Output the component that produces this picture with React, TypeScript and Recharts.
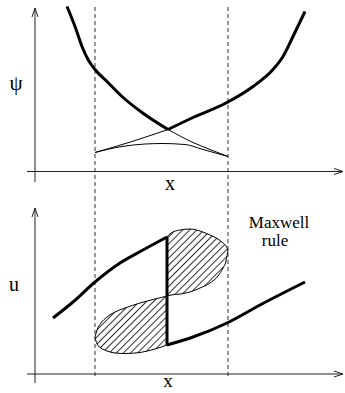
import React from "react";
import {
  Area,
  ComposedChart,
  Line,
  ReferenceDot,
  ReferenceLine,
  XAxis,
  YAxis,
} from "recharts";

// x in units of 10px from the y axis, y in units of 10px above the x axis

// upper panel: free energy psi(x)
const psiAX = [3.2, 4.0, 4.7, 5.3, 6.0, 7.3, 8.7, 10.7, 13.3];
const psiAY = [16.5, 14.5, 12.5, 11.2, 10.2, 8.9, 7.5, 5.9, 4.2];
const psiATailX = [13.3, 15.8, 17.5, 19.3];
const psiATailY = [4.2, 2.9, 2.2, 1.5];
const psiBX = [13.3, 15.8, 19.2, 21.8, 23.8, 24.8, 25.8, 27.0];
const psiBY = [4.2, 5.4, 6.9, 8.5, 10.2, 11.5, 13.5, 16.0];
const psiBTailX = [6.0, 9.7, 13.3];
const psiBTailY = [1.9, 3.0, 4.2];
const psiMixX = [6.0, 8.7, 11.0, 12.7, 15.0, 16.8, 19.3];
const psiMixY = [1.9, 2.5, 2.75, 2.8, 2.7, 2.2, 1.5];

// lower panel: u(x) with the Maxwell jump
const uAX = [1.8, 3.8, 6.0, 8.5, 10.8, 13.2];
const uAY = [5.6, 7.2, 9.2, 11.1, 12.4, 13.7];
const jumpX = [13.2, 13.2];
const jumpY = [13.7, 2.9];
const uBX = [13.2, 15.8, 19.2, 22.5, 27.0];
const uBY = [2.9, 3.7, 5.1, 6.9, 9.2];

const lobeUpX = [13.2, 13.6, 14.5, 15.5, 16.5, 17.5, 18.3, 18.8, 19.1, 19.3];
const lobeUpTop = [13.7, 14.1, 14.4, 14.5, 14.3, 13.9, 13.5, 13.1, 12.8, 12.4];
const lobeUpBot = [7.8, 7.9, 8.0, 8.2, 8.6, 9.1, 9.8, 10.6, 11.3, 12.4];
const lobeLoX = [6.0, 6.2, 6.6, 7.2, 8.0, 9.0, 10.5, 12.0, 13.2];
const lobeLoTop = [3.7, 4.4, 5.1, 5.7, 6.2, 6.6, 7.1, 7.5, 7.8];
const lobeLoBot = [3.7, 3.0, 2.6, 2.3, 2.1, 2.05, 2.15, 2.5, 2.9];

const spinodals = [6.0, 19.3];

const pts = (xs: number[], ys: number[]) => xs.map((x, i) => ({ x, y: ys[i] }));
const band = (xs: number[], lo: number[], hi: number[]) =>
  xs.map((x, i) => ({ x, range: [lo[i], hi[i]] }));

const FONT = "'Liberation Serif', 'DejaVu Serif', serif";
const INK = "#000";

function ArrowAxis(props: any) {
  const { x1, y1, x2, y2 } = props;
  const dx = x2 - x1;
  const dy = y2 - y1;
  const len = Math.hypot(dx, dy) || 1;
  const ux = dx / len;
  const uy = dy / len;
  const bx = x2 - ux * 9;
  const by = y2 - uy * 9;
  const h = 3;
  return (
    <g>
      <line x1={x1} y1={y1} x2={x2} y2={y2} stroke="#222" strokeWidth={1} />
      <polyline
        points={`${bx - uy * h},${by + ux * h} ${x2},${y2} ${bx + uy * h},${by - ux * h}`}
        fill="none"
        stroke="#222"
        strokeWidth={1}
      />
    </g>
  );
}

function TextAt(x: number, y: number, text: string, size: number) {
  return (
    <ReferenceDot
      key={text + x}
      x={x}
      y={y}
      r={0}
      fill="none"
      stroke="none"
      ifOverflow="visible"
      label={{ value: text, position: "center", fill: INK, fontSize: size, fontFamily: FONT }}
    />
  );
}

function curve(data: any[], key: string, width: number, type: any = "monotone") {
  return (
    <Line
      key={key}
      data={data}
      dataKey="y"
      type={type}
      stroke={INK}
      strokeWidth={width}
      dot={false}
      activeDot={false}
      isAnimationActive={false}
    />
  );
}

function lobe(data: any[], key: string) {
  return (
    <Area
      key={key}
      data={data}
      dataKey="range"
      type="monotone"
      stroke={INK}
      strokeWidth={1}
      fill="url(#maxwellHatch)"
      fillOpacity={1}
      dot={false}
      activeDot={false}
      isAnimationActive={false}
    />
  );
}

export default function App() {
  const xDomain = [-3.5, 31];
  return (
    <div
      style={{
        position: "absolute",
        left: 0,
        top: 0,
        width: 345,
        height: 393,
        background: "#fff",
        fontFamily: FONT,
        overflow: "hidden",
      }}
    >
      <ComposedChart width={345} height={197} margin={{ top: 0, right: 0, bottom: 0, left: 0 }}>
        <XAxis type="number" dataKey="x" domain={xDomain} allowDataOverflow hide />
        <YAxis type="number" domain={[-2.55, 17.15]} allowDataOverflow hide />
        {spinodals.map((s) => (
          <ReferenceLine
            key={s}
            segment={[{ x: s, y: 16.45 }, { x: s, y: -2.55 }]}
            stroke="#333"
            strokeDasharray="4 3"
            ifOverflow="visible"
          />
        ))}
        <ReferenceLine
          segment={[{ x: -0.8, y: 0 }, { x: 30.8, y: 0 }]}
          ifOverflow="visible"
          shape={ArrowAxis}
        />
        <ReferenceLine
          segment={[{ x: 0, y: -1.05 }, { x: 0, y: 16.35 }]}
          ifOverflow="visible"
          shape={ArrowAxis}
        />
        {curve(pts(psiMixX, psiMixY), "mix", 1)}
        {curve(pts(psiATailX, psiATailY), "aTail", 1)}
        {curve(pts(psiBTailX, psiBTailY), "bTail", 1)}
        {curve(pts(psiAX, psiAY), "a", 3)}
        {curve(pts(psiBX, psiBY), "b", 3)}
        {TextAt(-1.9, 8.9, "ψ", 21)}
        {TextAt(13.5, -1.15, "x", 20)}
      </ComposedChart>

      <ComposedChart width={345} height={196} margin={{ top: 0, right: 0, bottom: 0, left: 0 }}>
        <defs>
          <pattern
            id="maxwellHatch"
            patternUnits="userSpaceOnUse"
            width="5"
            height="5"
            patternTransform="rotate(45)"
          >
            <line x1="2.5" y1="0" x2="2.5" y2="5" stroke={INK} strokeWidth="0.8" />
          </pattern>
        </defs>
        <XAxis type="number" dataKey="x" domain={xDomain} allowDataOverflow hide />
        <YAxis type="number" domain={[-1.9, 17.7]} allowDataOverflow hide />
        {spinodals.map((s) => (
          <ReferenceLine
            key={s}
            segment={[{ x: s, y: 17.7 }, { x: s, y: -0.3 }]}
            stroke="#333"
            strokeDasharray="4 3"
            ifOverflow="visible"
          />
        ))}
        <ReferenceLine
          segment={[{ x: -0.8, y: 0 }, { x: 30.8, y: 0 }]}
          ifOverflow="visible"
          shape={ArrowAxis}
        />
        <ReferenceLine
          segment={[{ x: 0, y: -0.9 }, { x: 0, y: 16.6 }]}
          ifOverflow="visible"
          shape={ArrowAxis}
        />
        {lobe(band(lobeUpX, lobeUpBot, lobeUpTop), "lobeUp")}
        {lobe(band(lobeLoX, lobeLoBot, lobeLoTop), "lobeLo")}
        {curve(pts(uAX, uAY), "uA", 3)}
        {curve(pts(jumpX, jumpY), "jump", 3, "linear")}
        {curve(pts(uBX, uBY), "uB", 3)}
        {TextAt(-2.1, 9.0, "u", 20)}
        {TextAt(13.3, -0.6, "x", 19)}
        {TextAt(24.4, 15.2, "Maxwell", 17)}
        {TextAt(24.0, 13.4, "rule", 17)}
      </ComposedChart>
    </div>
  );
}
